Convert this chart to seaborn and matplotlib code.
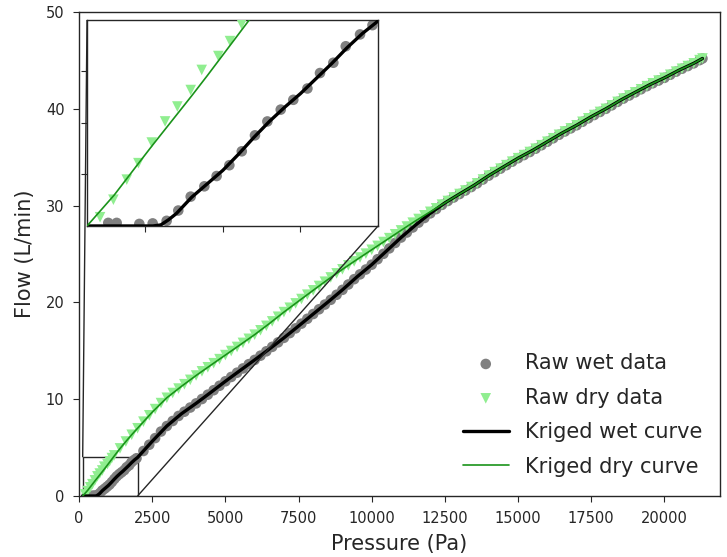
import matplotlib
matplotlib.use("Agg")
import matplotlib.pyplot as plt
import seaborn as sns
from mpl_toolkits.axes_grid1.inset_locator import mark_inset

# ---------------- data ----------------
wet_p = [262, 316, 462, 548, 638, 713, 793, 881, 960, 1042, 1122, 1207, 1287, 1373,
         1454, 1545, 1626, 1712, 1792, 1884, 1964,
         2200, 2400, 2600, 2800, 3000, 3200, 3400, 3600, 3800, 4000, 4200, 4400, 4600,
         4800, 5000, 5200, 5400, 5600, 5800, 6000, 6200, 6400, 6600, 6800, 7000, 7200,
         7400, 7600, 7800, 8000, 8200, 8400, 8600, 8800, 9000, 9200, 9400, 9600, 9800,
         10000, 10200, 10400, 10600, 10800, 11000, 11200, 11400, 11600, 11800, 12000,
         12200, 12400, 12600, 12800, 13000, 13200, 13400, 13600, 13800, 14000, 14200,
         14400, 14600, 14800, 15000, 15200, 15400, 15600, 15800, 16000, 16200, 16400,
         16600, 16800, 17000, 17200, 17400, 17600, 17800, 18000, 18200, 18400, 18600,
         18800, 19000, 19200, 19400, 19600, 19800, 20000, 20200, 20400, 20600, 20800,
         21000, 21200, 21300]
wet_q = [0.06, 0.06, 0.04, 0.05, 0.10, 0.30, 0.57, 0.77, 0.97, 1.18, 1.45, 1.76, 2.03, 2.26,
         2.45, 2.67, 2.97, 3.17, 3.49, 3.72, 3.90,
         4.65, 5.30, 5.98, 6.66, 7.23, 7.75, 8.27, 8.71, 9.14, 9.57, 10.02, 10.47, 10.93,
         11.39, 11.85, 12.30, 12.74, 13.18, 13.62, 14.06, 14.50, 14.95, 15.41, 15.87, 16.34, 16.83,
         17.32, 17.81, 18.31, 18.80, 19.29, 19.78, 20.27, 20.79, 21.30, 21.85, 22.40, 22.90, 23.40,
         23.90, 24.46, 25.02, 25.58, 26.14, 26.70, 27.22, 27.74, 28.24, 28.72, 29.20,
         29.64, 30.08, 30.48, 30.84, 31.20, 31.56, 31.92, 32.30, 32.70, 33.10, 33.46,
         33.82, 34.18, 34.54, 34.90, 35.22, 35.54, 35.88, 36.24, 36.60, 36.96, 37.32,
         37.66, 37.98, 38.30, 38.66, 39.02, 39.36, 39.68, 40.00, 40.36, 40.72, 41.06,
         41.38, 41.70, 42.02, 42.34, 42.64, 42.92, 43.20, 43.52, 43.84, 44.14, 44.42,
         44.70, 45.03, 45.20]

dry_p = [209, 295, 381, 456, 542, 628, 707, 793, 864, 971, 1046, 1121,
         1200, 1400, 1600, 1800, 2000, 2200, 2400, 2600, 2800, 3000, 3200, 3400, 3600,
         3800, 4000, 4200, 4400, 4600, 4800, 5000, 5200, 5400, 5600, 5800, 6000, 6200,
         6400, 6600, 6800, 7000, 7200, 7400, 7600, 7800, 8000, 8200, 8400, 8600, 8800,
         9000, 9200, 9400, 9600, 9800, 10000, 10200, 10400, 10600, 10800, 11000, 11200,
         11400, 11600, 11800, 12000, 12200, 12400, 12600, 12800, 13000, 13200, 13400,
         13600, 13800, 14000, 14200, 14400, 14600, 14800, 15000, 15200, 15400, 15600,
         15800, 16000, 16200, 16400, 16600, 16800, 17000, 17200, 17400, 17600, 17800,
         18000, 18200, 18400, 18600, 18800, 19000, 19200, 19400, 19600, 19800, 20000,
         20200, 20400, 20600, 20800, 21000, 21200, 21300]
dry_q = [0.17, 0.51, 0.90, 1.22, 1.62, 2.03, 2.32, 2.64, 3.03, 3.30, 3.59, 3.92,
         4.20, 4.92, 5.63, 6.33, 7.00, 7.68, 8.34, 8.98, 9.60, 10.15, 10.64, 11.10, 11.55,
         12.00, 12.45, 12.88, 13.30, 13.72, 14.14, 14.56, 14.98, 15.40, 15.82, 16.24, 16.67, 17.12,
         17.58, 18.04, 18.52, 19.00, 19.45, 19.90, 20.35, 20.80, 21.25, 21.70, 22.14, 22.58, 23.00,
         23.42, 23.83, 24.24, 24.64, 25.04, 25.44, 25.84, 26.24, 26.64, 27.04, 27.44, 27.84,
         28.24, 28.62, 29.00, 29.36, 29.72, 30.10, 30.48, 30.84, 31.20, 31.56, 31.92,
         32.30, 32.70, 33.10, 33.46, 33.82, 34.18, 34.54, 34.90, 35.22, 35.54, 35.88,
         36.24, 36.60, 36.96, 37.32, 37.66, 37.98, 38.30, 38.66, 39.02, 39.36, 39.68,
         40.00, 40.36, 40.72, 41.06, 41.38, 41.70, 42.02, 42.34, 42.64, 42.92, 43.20,
         43.52, 43.84, 44.14, 44.42, 44.70, 45.03, 45.20]

krig_p = [125, 300, 450, 550, 600, 650, 700, 750, 800, 900, 1000, 1100, 1200, 1300,
          1400, 1500, 1600, 1700, 1800, 1900, 2000, 2500, 3000, 3500, 4000, 4500, 5000,
          5500, 6000, 6500, 7000, 7500, 8000, 8500, 9000, 9500, 10000, 10500, 11000,
          11500, 12000, 12500, 13000, 13500, 14000, 14500, 15000, 15500, 16000, 16500,
          17000, 17500, 18000, 18500, 19000, 19500, 20000, 20500, 21000, 21300]
krig_wet = [0, 0, 0, 0, 0.02, 0.12, 0.24, 0.40, 0.56, 0.82, 1.08, 1.39, 1.72, 2.03,
            2.31, 2.57, 2.86, 3.15, 3.46, 3.74, 3.98, 5.65, 7.23, 8.50, 9.57, 10.70, 11.85,
            12.96, 14.06, 15.18, 16.34, 17.56, 18.80, 20.03, 21.30, 22.65, 23.90, 25.30, 26.70,
            28.00, 29.20, 30.28, 31.20, 32.10, 33.10, 34.00, 34.90, 35.71, 36.60, 37.49,
            38.30, 39.19, 40.00, 40.89, 41.70, 42.49, 43.20, 43.99, 44.70, 45.20]
krig_dry = [0, 0.60, 1.19, 1.58, 1.77, 1.96, 2.15, 2.34, 2.53, 2.92, 3.32, 3.72, 4.12, 4.52,
            4.90, 5.27, 5.63, 5.98, 6.33, 6.67, 7.00, 8.66, 10.15, 11.33, 12.45, 13.51, 14.56,
            15.61, 16.67, 17.81, 19.00, 20.13, 21.25, 22.36, 23.42, 24.44, 25.44, 26.44, 27.44,
            28.43, 29.36, 30.28, 31.20, 32.10, 33.10, 34.00, 34.90, 35.71, 36.60, 37.49,
            38.30, 39.19, 40.00, 40.89, 41.70, 42.49, 43.20, 43.99, 44.70, 45.20]

labels = ["Raw wet data", "Raw dry data", "Kriged wet curve", "Kriged dry curve"]
x_ticks_inset = [500, 1000, 1500]
y_ticks_inset = [1, 2, 3]

# ---------------- style ----------------
sns.set_style("ticks")
plt.rcParams["font.family"] = ["DejaVu Sans"]

WET_C = "#808080"
DRY_C = "#90EE90"
DRY_LINE = "#1a931a"
TXT = "#262626"
MS = 58


def draw(ax, with_labels):
    sns.scatterplot(x=wet_p, y=wet_q, ax=ax, color=WET_C, marker="o", s=MS,
                    edgecolor="none", linewidth=0,
                    label=labels[0] if with_labels else None, legend=False, zorder=2)
    sns.scatterplot(x=dry_p, y=dry_q, ax=ax, color=DRY_C, marker="v", s=MS,
                    edgecolor="none", linewidth=0,
                    label=labels[1] if with_labels else None, legend=False, zorder=3)
    sns.lineplot(x=krig_p, y=krig_wet, ax=ax, color="black", lw=2.4, estimator=None,
                 sort=False, label=labels[2] if with_labels else None, legend=False, zorder=4)
    sns.lineplot(x=krig_p, y=krig_dry, ax=ax, color=DRY_LINE, lw=1.2, estimator=None,
                 sort=False, label=labels[3] if with_labels else None, legend=False, zorder=5)


fig = plt.figure(figsize=(7.27, 5.57), dpi=100)
ax = fig.add_axes([0.1087, 0.1095, 0.8817, 0.8689])
draw(ax, True)
ax.set_xlim(0, 21900)
ax.set_ylim(0, 50)
ax.set_xlabel("Pressure (Pa)", fontsize=15, color=TXT, labelpad=6)
ax.set_ylabel("Flow (L/min)", fontsize=15, color=TXT, labelpad=8)
ax.tick_params(labelsize=10.5, colors=TXT, length=4.5, pad=6)
for s in ax.spines.values():
    s.set_color(TXT)
    s.set_linewidth(1.0)

h, l = ax.get_legend_handles_labels()
order = [l.index(t) for t in labels]
ax.legend([h[i] for i in order], [l[i] for i in order], loc="lower right",
          bbox_to_anchor=(0.986, 0.023), borderaxespad=0, frameon=False,
          fontsize=15, labelspacing=0.69, handletextpad=0.8, handlelength=2.2)

axins = fig.add_axes([0.1197, 0.5943, 0.4003, 0.3698])
draw(axins, False)
axins.set_xlim(125, 2000)
axins.set_ylim(0, 4)
axins.set_xticks(x_ticks_inset)
axins.set_yticks(y_ticks_inset)
axins.set_xticklabels([])
axins.set_yticklabels([])
axins.set_xlabel("")
axins.set_ylabel("")
axins.tick_params(length=4.5)
for s in axins.spines.values():
    s.set_color(TXT)
    s.set_linewidth(1.0)

mark_inset(ax, axins, loc1=2, loc2=4, fc="none", ec=TXT, lw=1.0)

fig.savefig("out.png", dpi=100)
